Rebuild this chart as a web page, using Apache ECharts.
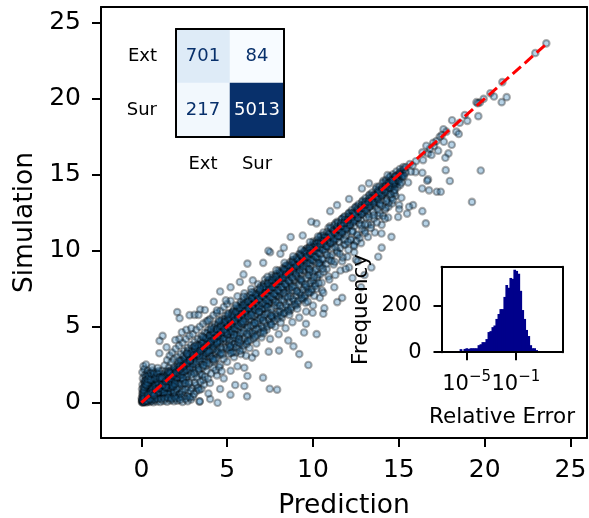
<!DOCTYPE html>
<html><head><meta charset="utf-8">
<style>html,body{margin:0;padding:0;background:#fff}#c{width:589px;height:518px}</style>
<script src="https://cdn.jsdelivr.net/npm/echarts@6/dist/echarts.min.js"></script>
</head><body><div id="c"></div>
<script>
const mainTicks=[0,5,10,15,20,25];
const lineEnds=[[0,0],[23.6,23.6]];
const upperOutliers=[[6.18,9.15],[5.95,8.44],[5.74,7.94],[6.49,8.05],[4.59,7.32],[4.22,6.64],[4.92,6.73],[2.09,5.96],[2.23,5.56],[2.81,5.76],[3.10,5.78],[3.43,6.13],[4.4,6.07],[3.33,5.78],[1.24,4.40],[1.06,4.07],[2.36,4.64],[2.62,4.80],[2.91,4.90],[2.21,4.2],[1.98,4.13],[1.47,3.65],[1.05,3.25],[0.27,2.51],[0.62,2.33],[0.95,2.28],[7.1,9.2],[7.5,9.9],[8.1,9.8],[8.7,10.9],[9.4,11.0],[10.2,11.8],[11.0,12.6],[7.4,10.0],[12.85,14.09],[13.26,14.43],[14.34,14.97],[12.1,13.4],[11.4,13.0],[9.9,11.9],[8.3,10.2],[5.2,7.6],[3.7,6.1],[3.9,5.4]];
const lowerOutliers=[[9.73,2.48],[10.21,4.51],[9.59,5.19],[9.48,4.62],[8.86,3.71],[8.56,4.09],[8.02,3.43],[7.42,3.36],[6.65,3.25],[6.45,2.97],[7.09,1.65],[7.48,0.92],[7.91,0.86],[6.18,1.76],[6.16,0.42],[6.0,1.1],[5.47,1.17],[5.19,0.53],[4.59,0.9],[4.44,0],[4.01,0.24],[3.91,0.61],[3.39,0.07],[3.37,0.84],[2.27,0.19],[11.41,6.62],[10.6,5.85],[10.66,6.22],[9.98,5.92],[9.69,6.66],[10.6,7.23],[11.24,7.6],[10.95,8.11],[13.4,8.9],[12.6,9.3],[13.0,8.4],[11.9,8.8],[12.3,8.2],[13.8,9.6],[14.0,10.2],[12.8,7.6],[11.7,6.9],[12.4,10.3],[13.99,11.13],[14.57,10.91],[9.2,3.2],[3.4,0.1]];
const upperTail=[[23.59,23.64],[22.95,23.0],[21.03,21.09],[20.33,20.36],[21.28,20.1],[20.99,19.77],[20.54,20.14],[19.94,19.99],[19.52,19.77],[19.72,19.75],[19.63,18.85],[18.84,18.93],[18.99,18.54],[18.55,18.42],[18.1,18.58],[17.6,17.99],[17.77,17.83],[18.35,17.83],[18.49,17.68],[17.38,17.5],[18.08,16.97],[17.62,17.17],[17.19,17.22],[17.05,16.88],[17.29,16.58],[17.89,16.4],[17.71,16.11],[16.7,16.4],[16.37,16.47],[16.41,15.96],[15.99,15.88],[15.64,15.7],[17.73,15.3],[19.77,15.28],[15.97,15.17],[16.37,15.13],[16.7,14.69],[16.65,14.6],[17.97,14.58],[16.36,14.09],[16.76,13.97],[17.21,13.88],[17.44,13.88],[19.26,13.21],[15.83,13.0],[15.6,12.89],[15.02,13.0],[15.02,12.73],[16.37,12.6],[15.48,12.44],[14.96,12.22],[14.38,12.18],[14.19,12.11],[16.57,11.8],[15.15,13.48],[15.54,14.49],[15.15,14.49],[14.67,13.33],[13.89,13.1],[17.5,17.6],[17.0,17.1],[16.8,16.7],[16.6,16.9],[16.9,16.3],[19.6,19.7],[15.4,15.5],[15.7,15.2],[15.3,14.9],[15.8,15.6],[14.8,14.9]];
const coreLow=[[0.03,0.05],[0.06,0.02],[0.08,0.11],[0.12,0.07],[0.15,0.19],[0.18,0.12],[0.22,0.26],[0.25,0.17],[0.28,0.33],[0.31,0.24],[0.36,0.41],[0.39,0.3],[0.43,0.5],[0.47,0.37],[0.5,0.58],[0.54,0.44],[0.58,0.66],[0.62,0.5],[0.66,0.74],[0.7,0.57],[0.74,0.83],[0.78,0.66],[0.83,0.92],[0.87,0.72],[0.92,1.02],[0.96,0.8],[1.01,1.1],[1.05,0.9],[1.1,1.22],[1.15,1.0],[1.2,1.31],[1.25,1.08],[1.3,1.42],[1.35,1.2],[1.4,1.52],[1.45,1.3],[1.5,1.63],[1.56,1.37],[1.61,1.72],[1.66,1.48],[1.72,1.85],[1.77,1.58],[1.83,1.95],[1.88,1.7],[1.94,2.08],[2.0,1.79],[2.06,2.2],[2.12,1.92],[2.18,2.3],[2.24,2.02],[2.3,2.44],[2.36,2.13],[2.42,2.55],[2.48,2.28],[2.54,2.68],[2.6,2.38],[2.66,2.8],[2.73,2.5],[2.79,2.92],[2.85,2.62],[2.92,3.06],[2.98,2.75],[3.05,3.19],[3.11,2.88],[3.18,3.3],[3.25,3.0],[3.31,3.46],[3.38,3.15],[3.45,3.58],[3.52,3.27],[3.59,3.72],[3.66,3.42],[3.73,3.88],[3.8,3.55],[3.87,4.01],[3.94,3.68],[4.01,4.15],[4.09,3.82],[4.16,4.3],[4.23,3.95],[4.31,4.44],[4.38,4.1],[4.46,4.6],[4.53,4.25],[4.61,4.75],[4.69,4.4],[4.77,4.92],[4.85,4.55],[4.93,5.08],[5.01,4.7],[5.09,5.22],[5.17,4.88]];
const coreHigh=[[5.25,5.4],[5.33,5.02],[5.41,5.55],[5.49,5.18],[5.57,5.72],[5.65,5.33],[5.73,5.88],[5.81,5.5],[5.9,6.04],[5.98,5.66],[6.06,6.2],[6.15,5.84],[6.23,6.38],[6.31,6.0],[6.4,6.55],[6.49,6.18],[6.57,6.72],[6.66,6.35],[6.75,6.9],[6.84,6.5],[6.92,7.08],[7.01,6.7],[7.1,7.25],[7.19,6.88],[7.28,7.44],[7.37,7.05],[7.46,7.6],[7.55,7.23],[7.64,7.8],[7.73,7.4],[7.83,7.98],[7.92,7.6],[8.01,8.15],[8.1,7.78],[8.2,8.35],[8.29,7.98],[8.39,8.54],[8.48,8.15],[8.58,8.72],[8.67,8.33],[8.77,8.92],[8.87,8.55],[8.96,9.1],[9.06,8.72],[9.16,9.31],[9.26,8.92],[9.36,9.5],[9.46,9.12],[9.56,9.7],[9.66,9.32],[9.76,9.9],[9.86,9.52],[9.96,10.1],[10.06,9.72],[10.17,10.31],[10.27,9.93],[10.37,10.52],[10.48,10.14],[10.58,10.72],[10.68,10.35],[10.79,10.93],[10.9,10.58],[11.0,11.13],[11.11,10.8],[11.22,11.36],[11.32,11.0],[11.43,11.56],[11.54,11.2],[11.65,11.78],[11.76,11.43],[11.87,12.0],[11.98,11.66],[12.09,12.22],[12.2,11.88],[12.31,12.43],[12.43,12.1],[12.54,12.66],[12.65,12.33],[12.77,12.88],[12.88,12.57],[13.0,13.11],[13.11,12.8],[13.23,13.34],[13.35,13.03],[13.46,13.56],[13.58,13.28],[13.7,13.8],[13.82,13.52],[13.94,14.03],[14.06,13.76],[14.18,14.27],[14.3,14.0],[14.42,14.5],[14.54,14.26],[14.66,14.74],[14.78,14.5],[14.9,14.98],[15.03,14.76],[15.15,15.22],[15.27,15.02]];
const originFan=[[0.02,0.3],[0.05,0.6],[0.04,0.9],[0.07,1.2],[0.09,1.6],[0.06,2.0],[0.12,2.4],[0.15,0.5],[0.13,1.0],[0.17,1.4],[0.2,1.8],[0.18,2.2],[0.24,0.7],[0.27,1.1],[0.3,1.5],[0.33,1.95],[0.38,2.1],[0.35,0.8],[0.42,1.2],[0.45,1.65],[0.5,1.95],[0.55,1.0],[0.6,1.4],[0.65,1.8],[0.7,1.1],[0.75,1.55],[0.8,2.0],[0.85,1.3],[0.3,0.02],[0.5,0.05],[0.7,0.03],[0.9,0.09],[1.1,0.05],[1.3,0.12],[1.5,0.07],[1.7,0.15],[1.9,0.1],[2.1,0.13],[2.4,0.05],[2.7,0.1],[2.9,0.22],[0.45,0.2],[0.65,0.22],[0.85,0.3],[1.05,0.36],[1.25,0.42],[1.45,0.4],[1.65,0.5],[1.85,0.55],[2.05,0.45],[2.25,0.6],[2.5,0.48],[2.75,0.62],[3.0,0.4],[0.8,0.45],[1.0,0.55],[1.2,0.7],[1.4,0.78],[1.6,0.85],[1.8,0.95],[2.0,1.1],[2.2,1.0],[2.45,1.2],[2.7,1.05],[2.95,0.95],[3.2,0.75],[3.5,0.9],[3.65,1.2]];
const wideLow=[[0.9,1.6],[1.0,1.9],[1.1,1.45],[1.2,2.1],[1.3,1.75],[1.35,2.45],[1.45,2.05],[1.5,2.8],[1.6,2.3],[1.65,3.1],[1.75,2.65],[1.8,3.3],[1.9,2.85],[2.0,3.55],[2.1,3.0],[2.2,3.75],[2.3,3.2],[2.4,3.95],[2.5,3.4],[2.6,4.2],[2.7,3.6],[2.8,4.4],[2.9,3.8],[3.0,4.5],[3.1,4.0],[3.2,4.8],[3.3,4.2],[3.4,5.0],[3.5,4.4],[3.6,5.2],[3.7,4.6],[3.8,5.35],[3.9,4.8],[4.0,5.5],[4.1,5.0],[4.2,5.75],[4.3,5.15],[4.4,5.9],[4.5,5.3],[4.6,6.05],[4.7,5.5],[4.8,6.3],[4.9,5.7],[5.0,6.5],[5.1,5.9],[1.5,0.95],[1.6,1.15],[1.7,1.05],[1.8,1.3],[1.9,1.2],[2.0,0.75],[2.1,1.45],[2.2,1.3],[2.3,1.6],[2.4,0.9],[2.5,1.75],[2.6,1.5],[2.7,1.9],[2.8,1.35],[2.9,2.05],[3.0,1.7],[3.1,2.2],[3.2,1.15],[3.3,2.4],[3.4,1.9],[3.5,2.55],[3.6,1.5],[3.7,2.7],[3.8,2.1],[3.9,2.85],[4.0,1.3],[4.1,3.0],[4.2,2.3],[4.3,3.2],[4.4,1.8],[4.5,3.3],[4.6,2.5],[4.7,3.5],[4.8,1.6],[4.9,3.65],[5.0,2.7],[5.1,3.85],[5.2,2.1],[5.3,4.0],[5.4,3.0],[5.5,4.2],[5.6,2.4],[5.7,4.35],[5.8,3.2],[5.9,4.55],[6.0,2.3],[3.0,2.3],[3.2,2.5],[3.4,2.75],[3.6,3.05],[3.8,3.1],[4.0,3.3],[4.2,3.55],[4.4,3.7],[4.6,3.95],[4.8,4.05],[5.0,4.3],[5.2,4.45],[5.4,4.65],[5.6,4.85],[5.8,5.0],[6.0,5.2]];
const wideMid=[[5.2,6.7],[5.4,6.2],[5.6,7.0],[5.8,6.5],[6.0,7.2],[6.2,6.8],[6.4,7.5],[6.6,7.0],[6.8,7.8],[7.0,7.3],[7.2,8.1],[7.4,7.6],[7.6,8.4],[7.8,8.0],[8.0,8.7],[8.2,8.3],[8.4,9.0],[8.6,8.8],[8.8,9.4],[9.0,9.0],[9.2,9.8],[9.4,9.5],[9.6,10.1],[9.8,9.8],[10.0,10.6],[10.2,10.2],[6.1,4.0],[6.2,5.0],[6.3,3.6],[6.4,5.4],[6.5,4.5],[6.6,5.7],[6.7,3.9],[6.8,5.2],[6.9,6.0],[7.0,4.3],[7.1,5.6],[7.2,6.2],[7.3,4.8],[7.4,6.5],[7.5,4.2],[7.6,5.9],[7.7,6.8],[7.8,5.0],[7.9,6.4],[8.0,4.5],[8.1,7.1],[8.2,5.6],[8.3,6.7],[8.4,4.9],[8.5,7.4],[8.6,6.0],[8.7,7.0],[8.8,5.3],[8.9,7.7],[9.0,6.4],[9.1,7.3],[9.2,5.6],[9.3,8.0],[9.4,6.8],[9.5,7.6],[9.6,6.0],[9.7,8.4],[9.8,7.2],[9.9,8.0],[10.0,6.4],[10.1,8.7],[10.2,7.5],[10.3,8.4],[10.4,6.9],[10.5,9.1],[5.1,3.2],[5.3,3.6],[5.5,3.3],[5.7,3.7],[5.9,3.5],[6.1,3.1],[6.3,4.7],[6.5,5.1],[6.7,4.9],[6.9,5.5],[7.1,4.9],[7.3,5.8],[7.5,5.3],[7.7,5.6],[7.9,5.7],[8.1,6.0],[8.3,5.9],[8.5,6.3],[8.7,6.1],[8.9,6.7],[9.1,6.5],[9.3,7.1],[9.5,6.9],[9.7,7.5],[9.9,7.3],[10.1,7.8],[5.3,5.95],[5.6,6.15],[5.9,6.45],[6.2,6.15],[6.5,6.9],[6.8,6.2],[7.1,7.7],[7.4,6.5],[7.7,8.2],[8.0,7.0],[8.3,8.7],[8.6,7.5],[8.9,9.1],[9.2,8.1],[9.5,9.9],[9.8,8.6],[10.1,10.4],[10.4,9.2]];
const wideHigh=[[10.4,10.9],[10.6,11.2],[10.8,10.3],[11.0,11.6],[11.2,10.5],[11.4,11.9],[11.6,10.9],[11.8,12.2],[12.0,11.2],[12.2,12.5],[12.4,11.6],[12.6,12.9],[12.8,12.0],[13.0,13.2],[13.2,12.4],[13.4,13.6],[13.6,12.9],[13.8,14.0],[14.0,13.3],[14.2,14.5],[14.4,13.7],[14.6,14.2],[14.8,14.3],[10.6,9.4],[10.8,8.8],[11.0,9.6],[11.2,9.1],[11.4,10.0],[11.6,8.7],[11.8,10.4],[12.0,9.6],[12.2,10.7],[12.4,9.9],[12.6,11.0],[12.8,10.5],[13.0,11.3],[13.2,10.9],[13.4,11.7],[13.6,11.2],[13.8,12.3],[14.0,11.7],[14.2,12.7],[14.4,12.9],[14.6,13.1],[14.8,13.6],[10.5,7.9],[10.9,8.3],[11.3,8.4],[11.7,9.3],[12.1,8.9],[12.5,9.4],[10.7,9.9],[11.1,10.2],[11.5,10.6],[11.9,11.0],[12.3,11.3],[12.7,11.8],[13.1,12.2],[13.5,12.6],[13.9,13.0],[14.3,13.4],[14.7,13.9],[10.9,11.5],[11.3,11.8],[11.7,12.1],[12.1,12.5],[12.5,12.9],[12.9,13.3],[13.3,13.7],[13.7,14.2],[14.1,14.6],[14.5,14.9]];
const fillNearZero=[[0.11,0.74],[0.23,1.32],[0.34,0.57],[0.41,0.92],[0.29,1.71],[0.52,1.27],[0.47,0.68],[0.63,1.09],[0.57,1.63],[0.71,0.88],[0.68,1.47],[0.79,1.21],[0.83,0.63],[0.91,1.37],[0.97,1.18],[0.88,1.77],[1.03,0.71],[1.08,1.53],[1.13,1.69],[1.17,0.83],[1.22,1.04],[1.27,1.88],[1.33,0.94],[1.37,1.63],[1.42,0.66],[1.47,1.19],[1.53,1.82],[1.57,0.58],[1.62,1.41],[1.67,2.07],[1.73,0.77],[1.78,1.26],[1.84,1.78],[1.91,0.68],[1.96,1.43],[2.03,1.94],[2.08,0.92],[2.14,1.67],[2.21,0.53],[2.27,1.21],[2.33,1.86],[2.38,0.71],[2.44,1.47],[2.52,2.07],[2.57,0.87],[2.63,1.73],[2.69,0.41],[2.76,1.27],[2.82,2.18],[2.87,0.79],[0.19,0.37],[0.37,0.16],[0.26,0.51],[0.56,0.27],[0.44,0.82],[0.72,0.38],[0.61,0.86],[0.93,0.48],[0.77,1.03],[1.12,0.62],[0.94,0.61],[1.32,0.58],[1.18,0.87],[1.53,0.59],[1.38,1.07],[1.72,0.33],[1.57,0.98],[1.93,0.41],[1.76,1.14],[2.16,0.31],[2.35,0.38],[2.58,0.24],[2.82,0.36],[3.07,0.58],[3.13,1.31],[3.24,1.67],[3.29,0.96],[3.36,2.12],[3.44,1.38],[3.53,1.83],[3.57,2.31],[3.63,2.88],[3.71,1.71],[3.76,2.42],[3.83,3.31],[3.89,1.58],[3.96,2.57],[4.03,3.07],[4.07,1.92],[4.14,3.48],[4.21,2.71],[4.26,3.87],[4.33,2.14],[4.37,2.93],[4.43,3.41],[4.49,4.06],[4.54,2.34],[4.58,3.16],[4.63,3.62],[4.68,2.07],[4.74,4.21],[4.79,2.89]];
const fillLowMid=[[2.31,2.79],[2.47,3.07],[2.64,3.26],[2.72,3.41],[2.83,3.17],[2.96,3.58],[3.08,3.67],[3.16,3.52],[3.27,3.83],[3.36,3.72],[3.47,4.12],[3.55,3.91],[3.68,4.27],[3.77,4.18],[3.84,4.58],[3.93,4.37],[4.06,4.71],[4.12,4.56],[4.24,4.93],[4.36,4.82],[4.47,5.13],[4.56,4.97],[4.64,5.38],[4.76,5.26],[4.87,5.48],[4.97,5.34],[5.07,5.71],[5.18,5.58],[5.28,5.87],[5.36,6.02],[5.47,5.91],[5.58,6.33],[5.68,6.24],[5.79,6.63],[5.88,6.38],[5.97,6.72],[6.08,6.57],[6.17,6.98],[6.26,6.66],[6.37,7.09],[6.47,6.82],[6.56,7.24],[6.67,7.12],[6.78,7.43],[6.87,7.27],[6.97,7.67],[7.06,7.49],[7.16,7.83],[7.27,7.62],[7.36,7.96],[4.91,4.17],[4.98,3.58],[5.04,4.47],[5.11,3.46],[5.14,4.11],[5.22,3.78],[5.27,4.68],[5.34,3.33],[5.38,4.27],[5.44,3.87],[5.48,4.81],[5.53,3.64],[5.58,4.42],[5.64,3.98],[5.69,5.03],[5.74,3.42],[5.78,4.58],[5.84,4.06],[5.88,5.18],[5.94,3.76],[5.99,4.73],[6.03,4.24],[6.08,5.36],[6.14,3.87],[6.19,4.89],[6.24,4.38],[6.28,5.52],[6.34,4.11],[6.38,5.06],[6.44,4.57],[6.48,5.68],[6.53,4.23],[6.58,5.24],[6.64,4.72],[6.68,5.86],[6.73,4.43],[6.78,5.39],[6.83,4.86],[6.88,6.03],[6.94,4.58],[6.98,5.61],[7.04,5.03],[7.08,6.22],[7.13,4.72],[7.18,5.76],[7.23,5.27],[7.27,6.41],[7.33,5.02],[7.38,5.93],[7.43,5.47]];
const fillMid=[[7.47,6.63],[7.53,5.17],[7.58,6.17],[7.63,5.66],[7.68,6.83],[7.74,5.38],[7.79,6.36],[7.84,5.83],[7.88,7.04],[7.94,5.53],[7.98,6.56],[8.04,6.02],[8.08,7.26],[8.13,5.74],[8.18,6.78],[8.24,6.22],[8.28,7.47],[8.33,5.88],[8.38,6.97],[8.43,6.43],[8.47,7.67],[8.53,6.07],[8.57,7.18],[8.63,6.62],[8.68,7.87],[8.73,6.27],[8.78,7.38],[8.83,6.83],[8.88,8.06],[8.93,6.47],[8.98,7.57],[9.03,7.03],[9.08,8.27],[9.13,6.68],[9.18,7.78],[9.23,7.22],[9.28,8.47],[9.33,6.88],[9.38,7.98],[9.43,7.42],[9.47,8.68],[9.53,7.06],[9.58,8.17],[9.63,7.63],[9.68,8.88],[9.73,7.26],[9.78,8.38],[9.83,7.84],[9.88,9.07],[9.93,7.47],[9.98,8.57],[10.03,8.03],[10.08,9.28],[10.13,7.68],[10.18,8.78],[10.23,8.23],[10.28,9.47],[10.33,7.88],[10.38,8.97],[10.43,8.44],[7.44,8.07],[7.57,7.93],[7.66,8.29],[7.77,8.13],[7.87,8.46],[7.96,8.34],[8.07,8.62],[8.17,8.48],[8.26,8.84],[8.37,8.67],[8.46,9.03],[8.56,8.88],[8.66,9.23],[8.76,9.07],[8.86,9.38],[8.95,9.26],[9.05,9.57],[9.15,9.44],[9.25,9.76],[9.35,9.63],[9.45,9.96],[9.55,9.84],[9.65,10.16],[9.75,10.04],[9.85,10.33],[9.95,10.23],[10.05,10.5],[10.15,10.44],[10.25,10.72],[10.36,10.63],[10.46,10.98],[10.56,10.84],[7.03,6.19],[7.22,6.47],[7.41,6.72],[7.62,6.94],[7.81,7.16],[8.02,7.36],[8.22,7.58],[8.42,7.78],[8.61,7.97],[8.82,8.18],[9.01,8.37],[9.21,8.58],[9.41,8.77],[9.61,8.98],[9.81,9.17],[10.01,9.38],[10.21,9.57],[10.41,9.77]];
const fillHigh=[[10.52,9.46],[10.61,8.62],[10.71,10.08],[10.77,9.13],[10.86,10.26],[10.93,9.42],[11.03,10.47],[11.09,9.71],[11.19,10.62],[11.26,9.27],[11.35,10.78],[11.42,9.88],[11.51,10.97],[11.58,10.18],[11.67,11.13],[11.73,9.56],[11.83,11.32],[11.89,10.41],[11.99,11.47],[12.06,10.06],[12.15,11.67],[12.22,10.74],[12.32,11.83],[12.38,10.38],[12.47,12.02],[12.56,11.07],[12.63,12.17],[12.71,10.83],[12.81,12.36],[12.87,11.42],[12.96,12.53],[13.04,11.17],[13.14,12.71],[13.2,11.72],[13.29,12.88],[13.37,11.5],[13.48,13.06],[13.55,12.12],[13.64,13.23],[13.72,11.86],[13.81,13.42],[13.89,12.47],[13.98,13.58],[14.07,12.28],[14.15,13.77],[14.24,12.82],[14.33,13.92],[14.41,13.17],[14.49,14.11],[14.58,13.47],[14.67,14.27],[14.75,13.78],[14.84,14.43],[14.92,14.18],[15.01,14.58],[15.08,14.33],[15.2,14.81],[10.63,11.02],[10.83,11.22],[11.06,11.48],[11.25,11.67],[11.46,11.84],[11.66,12.07],[11.85,12.26],[12.06,12.43],[12.26,12.67],[12.45,12.83],[12.66,13.05],[12.86,13.22],[13.06,13.47],[13.26,13.62],[13.45,13.83],[13.66,14.06],[13.86,14.22],[14.06,14.47],[14.26,14.66],[14.46,14.82],[14.66,15.03],[14.86,15.21],[15.06,15.37],[15.26,15.51]];
const fillCoreA=[[0.04,0.14],[0.09,0.23],[0.14,0.09],[0.21,0.31],[0.27,0.21],[0.33,0.46],[0.4,0.34],[0.46,0.61],[0.53,0.49],[0.59,0.76],[0.67,0.63],[0.73,0.94],[0.81,0.79],[0.89,1.08],[0.97,0.93],[1.04,1.27],[1.11,1.08],[1.19,1.41],[1.26,1.2],[1.34,1.57],[1.41,1.36],[1.49,1.74],[1.55,1.52],[1.63,1.87],[1.71,1.66],[1.79,2.04],[1.86,1.82],[1.95,2.21],[2.02,1.97],[2.11,2.36],[2.19,2.14],[2.28,2.54],[2.35,2.31],[2.44,2.71],[2.51,2.47],[2.61,2.88],[2.69,2.63],[2.78,3.04],[2.86,2.81],[2.95,3.23],[3.03,3.01],[3.13,3.39],[3.21,3.17],[3.3,3.58],[3.39,3.33],[3.48,3.74],[3.56,3.51],[3.66,3.93],[3.75,3.71],[3.85,4.09],[3.93,3.87],[4.03,4.29],[4.11,4.06],[4.22,4.47],[4.31,4.24],[4.41,4.66],[4.49,4.43],[4.59,4.84],[4.68,4.62],[4.79,5.04],[4.88,4.81],[4.98,5.22],[5.07,5.0],[5.18,5.43],[5.27,5.18],[5.37,5.62],[5.46,5.37],[5.57,5.81],[5.67,5.58],[5.77,6.01],[5.87,5.78],[5.97,6.21],[6.07,5.97],[6.18,6.42],[6.28,6.18],[6.38,6.62],[6.48,6.37],[6.59,6.84],[6.69,6.58],[6.79,7.02],[6.89,6.79],[7.0,7.24],[7.11,7.0],[7.21,7.43],[7.31,7.22],[7.42,7.66],[7.52,7.42],[7.63,7.86],[7.74,7.62],[7.84,8.07],[7.95,7.83],[8.06,8.29],[8.16,8.03],[8.27,8.48],[8.38,8.24],[8.48,8.71],[8.59,8.46],[8.7,8.91],[8.81,8.67],[8.92,9.13]];
const fillCoreB=[[9.03,8.89],[9.14,9.35],[9.25,9.09],[9.36,9.57],[9.47,9.31],[9.58,9.79],[9.69,9.52],[9.8,10.01],[9.92,9.76],[10.03,10.23],[10.14,9.98],[10.26,10.47],[10.37,10.21],[10.48,10.67],[10.6,10.44],[10.71,10.89],[10.83,10.67],[10.94,11.11],[11.06,10.91],[11.17,11.33],[11.29,11.13],[11.41,11.57],[11.52,11.38],[11.64,11.8],[11.76,11.61],[11.88,12.03],[11.99,11.84],[12.11,12.26],[12.23,12.08],[12.35,12.5],[12.47,12.33],[12.59,12.73],[12.71,12.56],[12.83,12.97],[12.95,12.81],[13.07,13.2],[13.19,13.06],[13.31,13.44],[13.43,13.29],[13.56,13.67],[13.68,13.54],[13.8,13.92],[13.93,13.78],[14.05,14.16],[14.17,14.03],[14.3,14.4],[14.42,14.29],[14.55,14.64],[14.67,14.54],[14.8,14.88],[14.92,14.79],[15.05,15.12],[15.18,15.04],[15.3,15.36],[0.16,0.41],[0.24,0.4],[0.32,0.6],[0.49,0.72],[0.64,0.93],[0.82,1.14],[0.99,1.33],[1.16,1.52],[1.36,1.73],[1.54,1.92],[1.74,2.13],[1.92,2.33],[2.13,2.52],[2.32,2.73],[2.53,2.93],[2.74,3.12],[2.93,3.33],[3.14,3.53],[3.35,3.76],[3.57,3.96],[3.78,4.22],[3.99,4.43],[4.21,4.63],[4.42,4.84],[4.64,5.06],[4.86,5.31],[5.08,5.53],[5.31,5.74],[5.53,5.97],[5.76,6.22],[5.99,6.43],[6.21,6.66],[6.44,6.89],[6.68,7.12],[6.91,7.37],[7.14,7.61],[7.38,7.83],[7.61,8.07],[7.85,8.31],[8.09,8.53],[8.33,8.77],[8.57,9.02],[8.81,9.26],[9.06,9.48],[9.3,9.72],[9.54,9.97],[9.79,10.2]];
const fillCoreC=[[0.52,0.31],[0.68,0.44],[0.84,0.59],[1.02,0.74],[1.19,0.89],[1.36,1.04],[1.55,1.21],[1.73,1.37],[1.91,1.53],[2.09,1.68],[2.28,1.86],[2.46,2.03],[2.65,2.19],[2.83,2.37],[3.02,2.56],[3.21,2.71],[3.41,2.89],[3.59,3.13],[3.79,3.28],[3.98,3.49],[4.19,3.71],[4.39,3.89],[4.58,4.08],[4.79,4.27],[4.99,4.51],[5.19,4.68],[5.39,4.91],[5.6,5.11],[5.81,5.27],[6.02,5.51],[6.22,5.69],[6.43,5.93],[6.64,6.12],[6.86,6.33],[7.07,6.54],[7.28,6.74],[7.5,6.97],[7.72,7.17],[7.93,7.41],[8.14,7.61],[8.36,7.83],[8.58,8.06],[8.79,8.27],[9.01,8.52],[9.23,8.73],[9.45,8.97],[9.67,9.18],[9.89,9.41],[10.11,9.63],[10.33,9.86],[10.56,10.07],[10.78,10.31],[11.01,10.52],[11.23,10.76],[11.46,10.97],[11.68,11.23],[11.91,11.46],[12.14,11.71],[12.37,11.94],[12.6,12.17],[12.83,12.43],[13.06,12.68],[13.29,12.91],[13.52,13.16],[13.75,13.41],[13.99,13.66],[14.22,13.88],[14.46,14.14],[14.69,14.39],[14.93,14.63],[15.17,14.88],[15.41,15.14],[0.11,0.02],[0.2,0.05],[0.37,0.09],[0.6,0.13],[0.77,0.21],[0.95,0.26],[1.15,0.24],[1.35,0.27],[1.55,0.31],[1.76,0.24],[2.0,0.28],[0.07,0.38],[0.1,0.5],[0.14,0.66],[0.16,0.84],[0.19,1.03],[0.22,1.22],[0.25,1.47],[0.31,1.16],[0.36,1.33],[0.39,1.55],[0.43,1.78],[0.54,1.51],[0.58,1.93],[0.66,2.11],[0.74,1.9],[0.82,1.6],[0.92,1.96],[1.02,2.08]];
const fillDark=[[1.07,1.64],[1.29,0.71],[1.59,2.03],[1.83,1.07],[2.17,2.73],[2.41,1.63],[2.67,3.22],[2.91,1.86],[3.12,3.73],[3.33,2.23],[3.58,4.33],[3.82,2.61],[4.04,4.86],[4.27,2.82],[4.52,5.41],[4.73,3.17],[5.03,5.83],[5.23,3.27],[5.51,6.41],[5.72,3.93],[5.96,6.97],[6.22,4.06],[6.42,7.27],[6.61,4.36],[6.91,7.52],[7.12,4.57],[7.35,8.28],[7.59,5.13],[7.86,8.72],[8.12,5.27],[8.34,9.21],[8.62,5.78],[8.84,9.63],[9.09,6.18],[9.32,10.08],[9.57,6.58],[9.82,10.57],[10.07,7.03],[10.29,10.93],[10.53,7.38],[0.96,0.67],[1.21,1.62],[1.44,1.02],[1.69,1.93],[1.97,1.24],[2.23,2.41],[2.56,1.28],[2.81,2.74],[3.09,1.94],[3.37,3.07],[3.62,2.47],[3.91,3.38],[4.18,2.87],[4.41,3.97],[4.66,3.27],[4.92,4.63],[5.16,3.68],[5.41,4.46],[5.67,4.17],[5.92,5.34],[6.16,4.53],[6.41,5.77],[6.62,5.23],[6.86,5.97],[7.09,5.41],[7.34,6.27],[7.56,5.72],[7.82,6.62],[8.06,6.38],[8.31,7.22],[8.54,6.93],[8.79,7.62],[9.04,7.33],[9.31,8.12],[9.56,7.77],[9.79,8.76],[10.04,8.27],[10.32,9.17],[10.57,8.83],[10.82,9.73],[11.07,9.32],[11.31,10.23],[11.56,9.78],[11.81,10.73],[12.04,10.57],[12.29,11.24],[12.53,10.62],[12.79,11.68],[13.03,11.73],[13.27,12.21],[13.53,12.33],[13.77,12.73],[14.01,12.96],[14.27,13.27],[14.52,13.71],[14.76,14.02],[0.06,0.19],[0.17,0.29],[0.29,0.13],[0.38,0.52],[0.49,0.23],[0.61,0.62],[0.73,0.49],[0.86,0.87],[1.03,0.97],[1.23,1.17],[1.43,1.41],[1.63,1.59],[1.83,1.79],[2.03,1.99],[2.23,2.19],[2.43,2.39],[2.63,2.59],[2.83,2.79],[3.04,3.11],[3.24,3.21],[3.44,3.42],[3.64,3.61],[3.84,3.82],[4.04,4.02],[4.24,4.21],[4.44,4.41],[4.64,4.62],[4.84,4.82],[5.04,5.02],[5.24,5.22],[5.44,5.41],[5.64,5.63],[5.84,5.82],[6.04,6.02],[6.24,6.23],[6.44,6.42],[6.64,6.63],[6.84,6.82],[7.04,7.03],[7.24,7.22],[7.44,7.43],[7.64,7.62],[7.84,7.82],[8.04,8.03],[8.24,8.22],[8.44,8.43],[8.64,8.62],[8.84,8.83],[9.04,9.02],[9.24,9.22],[9.44,9.43],[9.64,9.62],[9.84,9.83],[10.04,10.02],[10.24,10.22],[10.44,10.43],[10.64,10.62],[10.84,10.83],[11.04,11.02],[11.24,11.22],[11.44,11.43],[11.64,11.62],[11.84,11.83],[12.04,12.02],[12.24,12.22],[12.44,12.43],[12.64,12.62],[12.84,12.83],[13.04,13.02],[13.24,13.22],[13.44,13.43],[13.64,13.62],[13.84,13.83],[14.04,14.02],[14.24,14.22],[14.44,14.43],[14.64,14.62],[14.84,14.83],[15.04,15.02]];
const confusionRows=["Sur","Ext"];
const confusionCols=["Ext","Sur"];
const confusionCells=[[0,1,701],[1,1,84],[0,0,217],[1,0,5013]];
const histExponents=[-5.79,-5.62,-5.46,-5.30,-5.14,-4.98,-4.81,-4.65,-4.49,-4.33,-4.17,-4.00,-3.84,-3.68,-3.52,-3.36,-3.19,-3.03,-2.87,-2.71,-2.55,-2.38,-2.22,-2.06,-1.90,-1.74,-1.57,-1.41,-1.25,-1.09,-0.93,-0.76,-0.60,-0.44,-0.28,-0.12,0.05,0.21,0.37,0.53,0.69,0.86,1.02];
const histCounts=[1,3,13,6,14,17,14,17,17,17,17,30,34,43,43,56,86,90,107,114,142,163,184,184,236,287,275,317,313,352,347,335,262,180,142,95,69,30,17,17,9,4,4];
const histTicks=[-5,-1];
const histYTicks=[0,200];

const F="DejaVu Sans";
const points=[].concat(coreLow,coreHigh,originFan,wideLow,wideMid,wideHigh,fillNearZero,fillLowMid,fillMid,fillHigh,fillCoreA,fillCoreB,fillCoreC,fillDark,upperOutliers,lowerOutliers,upperTail);
function frameAxis(gridIndex,pos,min,max,type,data){return {type:type||'value',gridIndex,position:pos,min,max,data,z:10,
  axisLine:{show:true,onZero:false,lineStyle:{color:'#000',width:2}},axisTick:{show:false},axisLabel:{show:false},splitLine:{show:false}};}
function valAxis(gridIndex,pos,min,max,ticks,font,tickLen,margin,fmt,rich){return {type:'value',gridIndex,position:pos,min,max,z:10,
  axisLine:{show:true,onZero:false,lineStyle:{color:'#000',width:2}},
  axisTick:{show:true,length:tickLen,customValues:ticks,lineStyle:{color:'#000',width:2}},
  axisLabel:{show:true,customValues:ticks,fontFamily:F,fontSize:font,color:'#000',margin,formatter:fmt||(v=>String(v)),rich,showMinLabel:true,showMaxLabel:true,hideOverlap:false},
  splitLine:{show:false}};}
const supRich={b:{fontFamily:F,fontSize:21,color:'#000',lineHeight:26,padding:[8,0,0,0]},s:{fontFamily:F,fontSize:15,color:'#000',padding:[0,0,6,0],lineHeight:18}};
const xAxes=[
 Object.assign(valAxis(0,'bottom',-2.35,25.96,mainTicks,25,9,20),{name:'Prediction',nameLocation:'middle',nameGap:55,nameTextStyle:{fontFamily:F,fontSize:26.5,color:'#000'}}),
 frameAxis(0,'top',-2.35,25.96),
 {type:'category',gridIndex:1,position:'bottom',data:confusionCols,z:10,axisLine:{show:true,onZero:false,lineStyle:{color:'#000',width:2}},axisTick:{show:false},axisLabel:{fontFamily:F,fontSize:18,color:'#000',margin:18},splitLine:{show:false}},
 frameAxis(1,'top',undefined,undefined,'category',confusionCols),
 Object.assign(valAxis(2,'bottom',-7.04,2.79,histTicks,21,8,15,v=>'{b|10}{s|\u2212'+Math.abs(v)+'}',supRich),{name:'Relative Error',nameLocation:'middle',nameGap:54,nameTextStyle:{fontFamily:F,fontSize:21.5,color:'#000'}}),
 frameAxis(2,'top',-7.04,2.79)
];
const yAxes=[
 Object.assign(valAxis(0,'left',-2.32,26.03,mainTicks,25,9,20),{name:'Simulation',nameLocation:'middle',nameGap:62,nameTextStyle:{fontFamily:F,fontSize:26.5,color:'#000'}}),
 frameAxis(0,'right',-2.32,26.03),
 {type:'category',gridIndex:1,position:'left',data:confusionRows,z:10,axisLine:{show:true,onZero:false,lineStyle:{color:'#000',width:2}},axisTick:{show:false},axisLabel:{fontFamily:F,fontSize:18,color:'#000',margin:19,padding:[3,0,0,0]},splitLine:{show:false}},
 frameAxis(1,'right',undefined,undefined,'category',confusionRows),
 Object.assign(valAxis(2,'left',0,365,histYTicks,21,8,20),{name:'Frequency',nameLocation:'middle',nameGap:69,nameTextStyle:{fontFamily:F,fontSize:21.5,color:'#000'}}),
 frameAxis(2,'right',0,365)
];
const chart=echarts.init(document.getElementById('c'),null,{renderer:'canvas',width:589,height:518});
chart.setOption({
 animation:false,backgroundColor:'#fff',
 textStyle:{fontFamily:F},
 grid:[
  {left:101,top:7,width:486,height:431,outerBoundsMode:'none'},
  {left:176,top:29,width:108,height:108,outerBoundsMode:'none'},
  {left:441.5,top:266.7,width:121,height:85.5,outerBoundsMode:'none'}
 ],
 xAxis:xAxes,yAxis:yAxes,
 visualMap:[{show:false,seriesIndex:1,min:84,max:5013,dimension:2,inRange:{color:['#f7fbff','#deebf7','#c6dbef','#9ecae1','#6baed6','#4292c6','#2171b5','#08519c','#08306b']}}],
 series:[
  {type:'scatter',xAxisIndex:0,yAxisIndex:0,data:points,symbol:'circle',symbolSize:6.5,silent:true,
   itemStyle:{color:'rgba(31,119,180,0.32)',borderColor:'rgba(0,0,0,0.32)',borderWidth:2.1,opacity:1},z:2},
  {type:'heatmap',xAxisIndex:2,yAxisIndex:2,data:confusionCells.map(c=>({value:c,label:{color:c[2]>2500?'#fff':'#08306b'}})),silent:true,z:3,
   label:{show:true,fontFamily:F,fontSize:18,color:'#08306b',formatter:p=>String(p.value[2])}},
  {type:'bar',xAxisIndex:4,yAxisIndex:4,data:histExponents.map((e,i)=>[e,histCounts[i]]),barWidth:2.7,silent:true,itemStyle:{color:'#00008b'},z:3},
  {type:'line',xAxisIndex:0,yAxisIndex:0,data:lineEnds,symbol:'none',silent:true,z:4,lineStyle:{color:'#ff0000',width:3,type:[11,5]}}
 ]
});
</script></body></html>
